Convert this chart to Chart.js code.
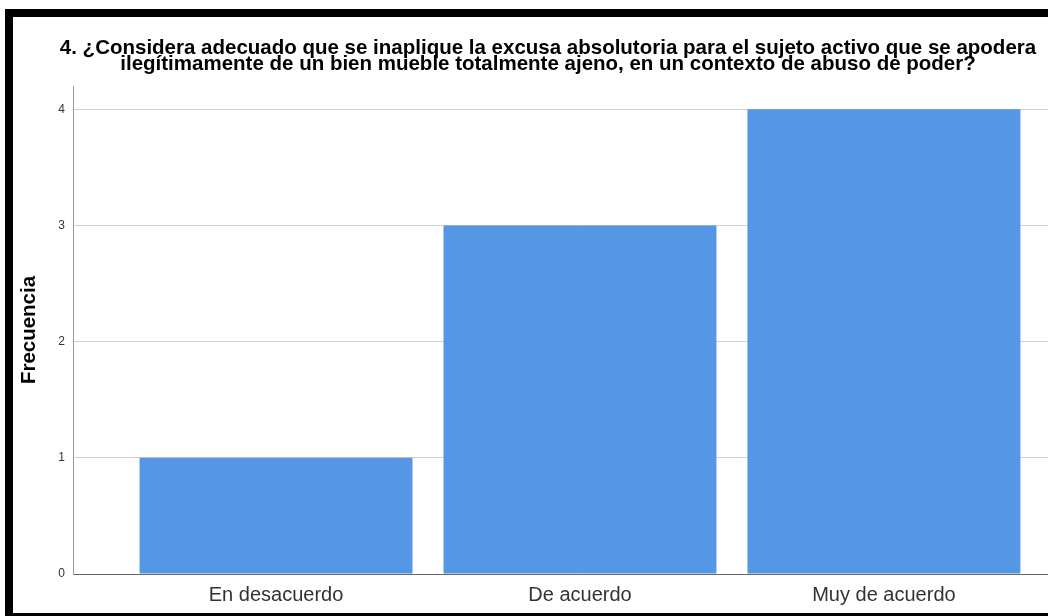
<!DOCTYPE html>
<html>
<head>
<meta charset="utf-8">
<script src="https://cdn.jsdelivr.net/npm/chart.js@4.4.1/dist/chart.umd.min.js"></script>
<style>
  html, body { margin: 0; padding: 0; background: #fff; overflow: hidden; width: 1048px; height: 616px; }
  #frame { position: absolute; left: 5px; top: 9px; border-left: 8px solid #000; border-top: 8px solid #000; border-bottom: 8px solid #000; width: 1070px; height: 596px; }
  canvas { display: block; }
</style>
</head>
<body>
<div id="frame"><canvas id="c" width="1070" height="596"></canvas></div>
<script>
const titleLines = [
  "4. ¿Considera adecuado que se inaplique la excusa absolutoria para el sujeto activo que se apodera",
  "ilegítimamente de un bien mueble totalmente ajeno, en un contexto de abuso de poder?"
];
const categories = ["En desacuerdo", "De acuerdo", "Muy de acuerdo"];
const frequencies = [1, 3, 4];
const yTicks = [0, 1, 2, 3, 4];
const yAxisTitle = "Frecuencia";

const FONT = "'Liberation Sans', Arial, sans-serif";

new Chart(document.getElementById('c'), {
  type: 'bar',
  data: {
    datasets: [{
      data: categories.map((c, i) => ({ x: i, y: frequencies[i] })),
      backgroundColor: '#5596e5',
      borderWidth: 0,
      categoryPercentage: 1,
      barPercentage: 0.898
    }]
  },
  options: {
    responsive: false,
    animation: false,
    events: [],
    layout: { padding: { left: 0, right: 0, top: 0, bottom: 0 } },
    plugins: {
      legend: { display: false },
      tooltip: { enabled: false },
      title: {
        display: true,
        text: titleLines,
        color: '#000',
        font: { family: FONT, size: 20.5, weight: 'bold', lineHeight: '16.5px' },
        padding: { top: 23, bottom: 13 }
      }
    },
    scales: {
      x: {
        type: 'linear',
        position: 'bottom',
        offset: false,
        min: -0.668,
        max: 2.655,
        afterFit: s => { s.height = 39; },
        grid: { display: false, drawTicks: false, offset: false },
        border: { display: true, color: '#666', width: 1 },
        ticks: {
          stepSize: 1,
          includeBounds: false,
          autoSkip: false,
          maxRotation: 0,
          padding: 9,
          color: '#333',
          font: { family: FONT, size: 20 },
          callback: v => (Number.isInteger(v) && categories[v] !== undefined) ? categories[v] : ''
        }
      },
      y: {
        min: 0,
        max: 4.2,
        afterFit: s => { s.width = 60; },
        grid: { color: '#cfcfcf', lineWidth: 1, drawTicks: false },
        border: { display: true, color: '#9a9a9a', width: 1 },
        afterBuildTicks: s => { s.ticks = yTicks.map(v => ({ value: v })); },
        ticks: {
          stepSize: 1,
          includeBounds: false,
          padding: 8,
          color: '#333',
          font: { family: FONT, size: 12 }
        },
        title: {
          display: true,
          text: yAxisTitle,
          color: '#000',
          font: { family: FONT, size: 20.5, weight: 'bold' },
          padding: { top: 4, bottom: 0 }
        }
      }
    }
  }
});
</script>
</body>
</html>
